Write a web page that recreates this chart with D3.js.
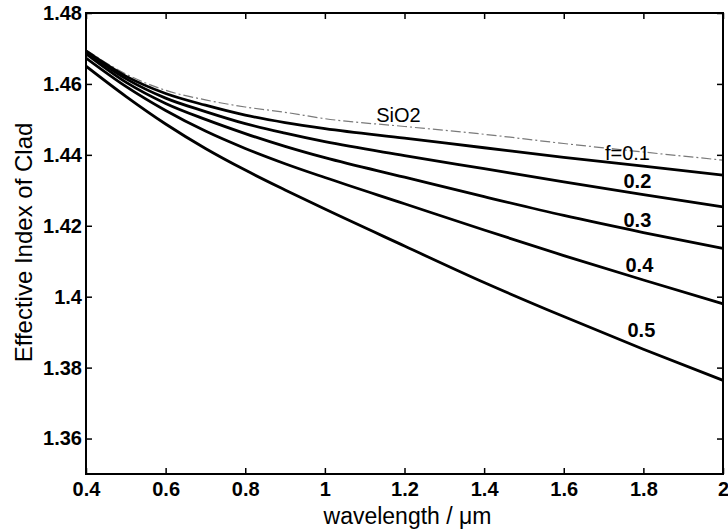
<!DOCTYPE html>
<html>
<head>
<meta charset="utf-8">
<script src="https://cdn.jsdelivr.net/npm/d3@7"></script>
<style>
  html, body { margin: 0; padding: 0; background: #fff; }
  svg { display: block; font-family: "Liberation Sans", Arial, Helvetica, sans-serif; }
</style>
</head>
<body>
<svg id="chart" width="728" height="530"></svg>
<script>
// Wavelength samples (µm)
const wavelength = [0.4, 0.5, 0.6, 0.7, 0.8, 0.9, 1.0, 1.2, 1.4, 1.6, 1.8, 2.0];

// Effective cladding index: bulk silica and air-filling fractions f
const sio2 = [1.4696, 1.4628, 1.4582, 1.4555, 1.4535, 1.4520, 1.4502, 1.4480, 1.4458, 1.4432, 1.4408, 1.4385];
const f01  = [1.4693, 1.4622, 1.4573, 1.4540, 1.4512, 1.4491, 1.4474, 1.4447, 1.4420, 1.4393, 1.4368, 1.4343];
const f02  = [1.4690, 1.4615, 1.4560, 1.4522, 1.4488, 1.4461, 1.4437, 1.4398, 1.4361, 1.4324, 1.4288, 1.4253];
const f03  = [1.4685, 1.4605, 1.4545, 1.4500, 1.4460, 1.4424, 1.4392, 1.4337, 1.4282, 1.4229, 1.4181, 1.4136];
const f04  = [1.4673, 1.4593, 1.4525, 1.4467, 1.4418, 1.4375, 1.4336, 1.4262, 1.4188, 1.4116, 1.4047, 1.3980];
const f05  = [1.4650, 1.4565, 1.4487, 1.4418, 1.4357, 1.4301, 1.4247, 1.4143, 1.4040, 1.3944, 1.3852, 1.3764];

// Axis ticks and their labels
const xTicks = [0.4, 0.6, 0.8, 1.0, 1.2, 1.4, 1.6, 1.8, 2.0];
const xTickLabels = ["0.4", "0.6", "0.8", "1", "1.2", "1.4", "1.6", "1.8", "2"];
const yTicks = [1.36, 1.38, 1.40, 1.42, 1.44, 1.46, 1.48];
const yTickLabels = ["1.36", "1.38", "1.4", "1.42", "1.44", "1.46", "1.48"];

// Curve labels: text and anchor in data units (centre x, baseline y)
const labelText = ["SiO2", "f=0.1", "0.2", "0.3", "0.4", "0.5"];
const labelX    = [1.185, 1.760, 1.785, 1.785, 1.790, 1.795];
const labelY    = [1.4492, 1.4385, 1.4306, 1.4196, 1.4069, 1.3885];
const labelBold = [false, false, true, true, true, true];

const svg = d3.select("#chart");
const margin = { left: 86, top: 13, right: 5, bottom: 56 };
const W = 728 - margin.left - margin.right;
const H = 530 - margin.top - margin.bottom;

const x = d3.scaleLinear().domain([0.4, 2.0]).range([0, W]);
const y = d3.scaleLinear().domain([1.35, 1.48]).range([H, 0]);

const g = svg.append("g").attr("transform", `translate(${margin.left},${margin.top})`);

g.append("defs").append("clipPath").attr("id", "plotClip")
  .append("rect").attr("x", 0).attr("y", 0).attr("width", W).attr("height", H);

const line = d3.line()
  .x((d, i) => x(wavelength[i]))
  .y(d => y(d))
  .curve(d3.curveMonotoneX);

const plot = g.append("g").attr("clip-path", "url(#plotClip)");

// Bulk silica reference curve (thin grey dash-dot)
plot.append("path")
  .datum(sio2)
  .attr("d", line)
  .attr("fill", "none")
  .attr("stroke", "#7a7a7a")
  .attr("stroke-width", 1.2)
  .attr("stroke-dasharray", "10,3,2,3");

// Holey-cladding curves
[f01, f02, f03, f04, f05].forEach(series => {
  plot.append("path")
    .datum(series)
    .attr("d", line)
    .attr("fill", "none")
    .attr("stroke", "#000")
    .attr("stroke-width", 2.8)
    .attr("stroke-linejoin", "round");
});

// Axes: labelled bottom/left, tick-only top/right, all ticks pointing inward
const tickFont = (sel) => sel.selectAll("text")
  .attr("font-size", 20).attr("font-weight", "bold").attr("fill", "#000")
  .attr("font-family", "Liberation Sans, Arial, sans-serif");

const xAxis = g.append("g").attr("transform", `translate(0,${H})`)
  .call(d3.axisBottom(x).tickValues(xTicks).tickFormat((d, i) => xTickLabels[i])
    .tickSizeInner(-6).tickSizeOuter(0).tickPadding(8));
xAxis.call(tickFont);

const yAxis = g.append("g")
  .call(d3.axisLeft(y).tickValues(yTicks).tickFormat((d, i) => yTickLabels[i])
    .tickSizeInner(-6).tickSizeOuter(0).tickPadding(4));
yAxis.call(tickFont);

g.append("g")
  .call(d3.axisTop(x).tickValues(xTicks).tickFormat("").tickSizeInner(-6).tickSizeOuter(0));
g.append("g").attr("transform", `translate(${W},0)`)
  .call(d3.axisRight(y).tickValues(yTicks).tickFormat("").tickSizeInner(-6).tickSizeOuter(0));

g.selectAll(".domain").remove();
g.selectAll(".tick line").attr("stroke", "#000").attr("stroke-width", 1.5);

// Plot frame
g.append("rect")
  .attr("x", 0).attr("y", 0).attr("width", W).attr("height", H)
  .attr("fill", "none").attr("stroke", "#000").attr("stroke-width", 2);

// Curve labels
labelText.forEach((t, i) => {
  g.append("text")
    .attr("x", x(labelX[i]))
    .attr("y", y(labelY[i]))
    .attr("text-anchor", "middle")
    .attr("font-size", 20)
    .attr("font-weight", labelBold[i] ? "bold" : "normal")
    .attr("fill", "#000")
    .text(t);
});

// Axis titles
svg.append("text")
  .attr("x", margin.left + W / 2 + 3)
  .attr("y", 524)
  .attr("text-anchor", "middle")
  .attr("font-size", 23)
  .attr("fill", "#000")
  .text("wavelength / \u03BCm");

svg.append("text")
  .attr("transform", `translate(32,${margin.top + H / 2 - 1}) rotate(-90)`)
  .attr("text-anchor", "middle")
  .attr("font-size", 24)
  .attr("fill", "#000")
  .text("Effective Index of Clad");
</script>
</body>
</html>
